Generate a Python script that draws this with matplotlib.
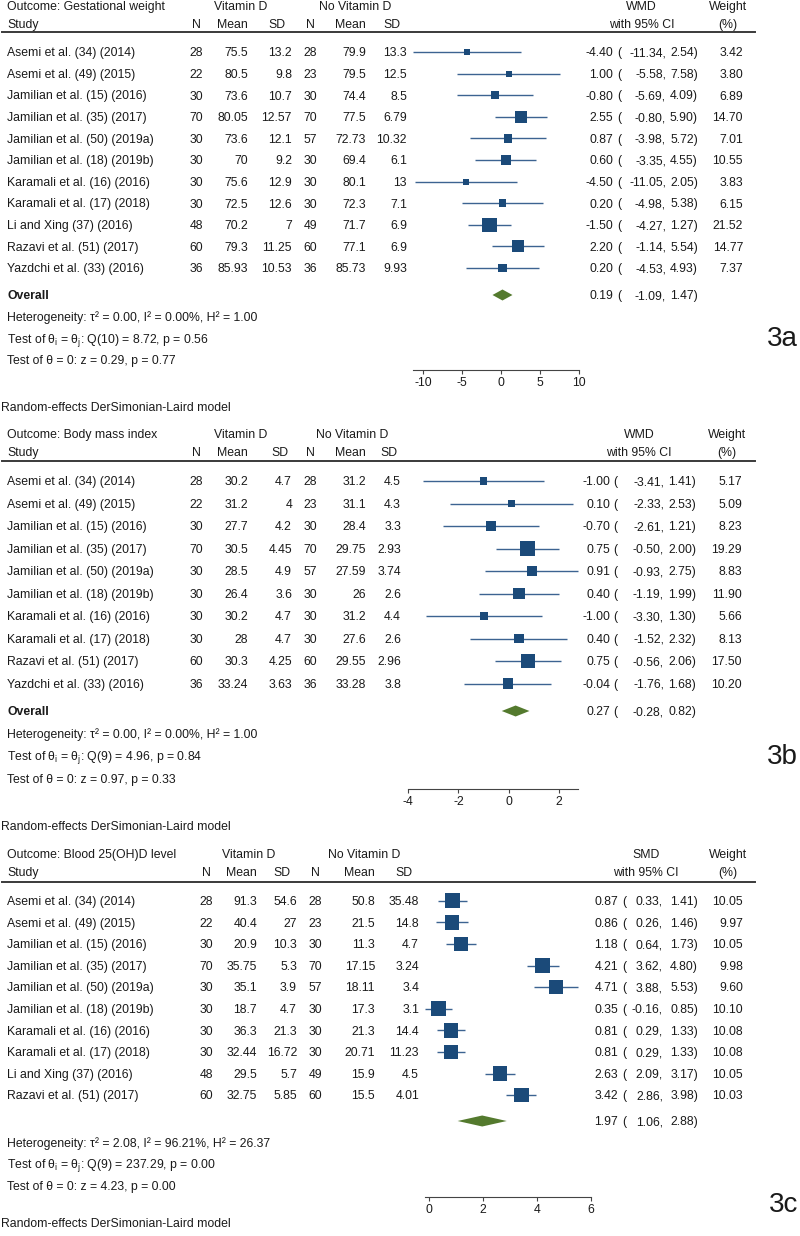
import matplotlib
matplotlib.use('Agg')
import matplotlib.pyplot as plt
from matplotlib.lines import Line2D
from matplotlib.font_manager import FontProperties
import numpy as np

plt.rcParams['font.family'] = ['Liberation Sans', 'DejaVu Sans']
plt.rcParams['axes.unicode_minus'] = False
plt.rcParams['mathtext.fontset'] = 'custom'
plt.rcParams['mathtext.rm'] = 'Liberation Sans'
plt.rcParams['mathtext.it'] = 'Liberation Sans:italic'

# ---------------- DATA ----------------
studies_a = ["Asemi et al. (34) (2014)", "Asemi et al. (49) (2015)", "Jamilian et al. (15) (2016)",
             "Jamilian et al. (35) (2017)", "Jamilian et al. (50) (2019a)", "Jamilian et al. (18) (2019b)",
             "Karamali et al. (16) (2016)", "Karamali et al. (17) (2018)", "Li and Xing (37) (2016)",
             "Razavi et al. (51) (2017)", "Yazdchi et al. (33) (2016)"]
n1_a = [28, 22, 30, 70, 30, 30, 30, 30, 48, 60, 36]
mean1_a = [75.5, 80.5, 73.6, 80.05, 73.6, 70, 75.6, 72.5, 70.2, 79.3, 85.93]
sd1_a = [13.2, 9.8, 10.7, 12.57, 12.1, 9.2, 12.9, 12.6, 7, 11.25, 10.53]
n2_a = [28, 23, 30, 70, 57, 30, 30, 30, 49, 60, 36]
mean2_a = [79.9, 79.5, 74.4, 77.5, 72.73, 69.4, 80.1, 72.3, 71.7, 77.1, 85.73]
sd2_a = [13.3, 12.5, 8.5, 6.79, 10.32, 6.1, 13, 7.1, 6.9, 6.9, 9.93]
es_a = [-4.40, 1.00, -0.80, 2.55, 0.87, 0.60, -4.50, 0.20, -1.50, 2.20, 0.20]
lo_a = [-11.34, -5.58, -5.69, -0.80, -3.98, -3.35, -11.05, -4.98, -4.27, -1.14, -4.53]
hi_a = [2.54, 7.58, 4.09, 5.90, 5.72, 4.55, 2.05, 5.38, 1.27, 5.54, 4.93]
wt_a = [3.42, 3.80, 6.89, 14.70, 7.01, 10.55, 3.83, 6.15, 21.52, 14.77, 7.37]
overall_a = [0.19, -1.09, 1.47]
ticks_a = [-10, -5, 0, 5, 10]

studies_b = ["Asemi et al. (34) (2014)", "Asemi et al. (49) (2015)", "Jamilian et al. (15) (2016)",
             "Jamilian et al. (35) (2017)", "Jamilian et al. (50) (2019a)", "Jamilian et al. (18) (2019b)",
             "Karamali et al. (16) (2016)", "Karamali et al. (17) (2018)", "Razavi et al. (51) (2017)",
             "Yazdchi et al. (33) (2016)"]
n1_b = [28, 22, 30, 70, 30, 30, 30, 30, 60, 36]
mean1_b = [30.2, 31.2, 27.7, 30.5, 28.5, 26.4, 30.2, 28, 30.3, 33.24]
sd1_b = [4.7, 4, 4.2, 4.45, 4.9, 3.6, 4.7, 4.7, 4.25, 3.63]
n2_b = [28, 23, 30, 70, 57, 30, 30, 30, 60, 36]
mean2_b = [31.2, 31.1, 28.4, 29.75, 27.59, 26, 31.2, 27.6, 29.55, 33.28]
sd2_b = [4.5, 4.3, 3.3, 2.93, 3.74, 2.6, 4.4, 2.6, 2.96, 3.8]
es_b = [-1.00, 0.10, -0.70, 0.75, 0.91, 0.40, -1.00, 0.40, 0.75, -0.04]
lo_b = [-3.41, -2.33, -2.61, -0.50, -0.93, -1.19, -3.30, -1.52, -0.56, -1.76]
hi_b = [1.41, 2.53, 1.21, 2.00, 2.75, 1.99, 1.30, 2.32, 2.06, 1.68]
wt_b = [5.17, 5.09, 8.23, 19.29, 8.83, 11.90, 5.66, 8.13, 17.50, 10.20]
overall_b = [0.27, -0.28, 0.82]
ticks_b = [-4, -2, 0, 2]

studies_c = ["Asemi et al. (34) (2014)", "Asemi et al. (49) (2015)", "Jamilian et al. (15) (2016)",
             "Jamilian et al. (35) (2017)", "Jamilian et al. (50) (2019a)", "Jamilian et al. (18) (2019b)",
             "Karamali et al. (16) (2016)", "Karamali et al. (17) (2018)", "Li and Xing (37) (2016)",
             "Razavi et al. (51) (2017)"]
n1_c = [28, 22, 30, 70, 30, 30, 30, 30, 48, 60]
mean1_c = [91.3, 40.4, 20.9, 35.75, 35.1, 18.7, 36.3, 32.44, 29.5, 32.75]
sd1_c = [54.6, 27, 10.3, 5.3, 3.9, 4.7, 21.3, 16.72, 5.7, 5.85]
n2_c = [28, 23, 30, 70, 57, 30, 30, 30, 49, 60]
mean2_c = [50.8, 21.5, 11.3, 17.15, 18.11, 17.3, 21.3, 20.71, 15.9, 15.5]
sd2_c = [35.48, 14.8, 4.7, 3.24, 3.4, 3.1, 14.4, 11.23, 4.5, 4.01]
es_c = [0.87, 0.86, 1.18, 4.21, 4.71, 0.35, 0.81, 0.81, 2.63, 3.42]
lo_c = [0.33, 0.26, 0.64, 3.62, 3.88, -0.16, 0.29, 0.29, 2.09, 2.86]
hi_c = [1.41, 1.46, 1.73, 4.80, 5.53, 0.85, 1.33, 1.33, 3.17, 3.98]
wt_c = [10.05, 9.97, 10.05, 9.98, 9.60, 10.10, 10.08, 10.08, 10.05, 10.03]
overall_c = [1.97, 1.06, 2.88]
ticks_c = [0, 2, 4, 6]

het_a = ["Heterogeneity: τ² = 0.00, I² = 0.00%, H² = 1.00",
         r"Test of θ$_\mathrm{i}$ = θ$_\mathrm{j}$: Q(10) = 8.72, p = 0.56",
         "Test of θ = 0: z = 0.29, p = 0.77"]
het_b = ["Heterogeneity: τ² = 0.00, I² = 0.00%, H² = 1.00",
         r"Test of θ$_\mathrm{i}$ = θ$_\mathrm{j}$: Q(9) = 4.96, p = 0.84",
         "Test of θ = 0: z = 0.97, p = 0.33"]
het_c = ["Heterogeneity: τ² = 2.08, I² = 96.21%, H² = 26.37",
         r"Test of θ$_\mathrm{i}$ = θ$_\mathrm{j}$: Q(9) = 237.29, p = 0.00",
         "Test of θ = 0: z = 4.23, p = 0.00"]

# ---------------- STYLE / LAYOUT ----------------
W, H, DPI = 800, 1236, 100
FS = 8.8
TXT = '#1a1a1a'
SQ = '#1b4a79'
CI = '#3c6391'
DIA = '#547a2e'

fig = plt.figure(figsize=(W / DPI, H / DPI), dpi=DPI)
renderer = fig.canvas.get_renderer()
fp = FontProperties(family=['Liberation Sans', 'DejaVu Sans'], size=FS)


def tw(s):
    w, h, d = renderer.get_text_width_height_descent(s, fp, ismath=False)
    return w


def T(x, y, s, ha='left', **kw):
    kw.setdefault('fontsize', FS)
    kw.setdefault('color', TXT)
    fig.text(x / W, 1 - (y + 4.3) / H, s, ha=ha, va='baseline', **kw)


fmt = lambda v: f"{v:g}"
f2 = lambda v: f"{v:.2f}"

panels = [
    dict(outcome="Outcome: Gestational weight", eff="WMD", tag="3a", studies=studies_a,
         cols=[n1_a, mean1_a, sd1_a, n2_a, mean2_a, sd2_a], es=es_a, lo=lo_a, hi=hi_a, wt=wt_a,
         overall=overall_a, het=het_a, ticks=ticks_a, overall_label=True,
         y_out=6, y_sub=23.3, y_line=32.3, y0=52, dy=21.6, y_ov=295, y_het=[317, 338.5, 360],
         y_axis=370, y_re=407, y_tag=339,
         colr=[203, 248, 292, 317, 366, 407], est_r=613, par_l=617, lo_r=666, hi_r=698, w_r=743,
         zero=501, scale=7.8),
    dict(outcome="Outcome: Body mass index", eff="WMD", tag="3b", studies=studies_b,
         cols=[n1_b, mean1_b, sd1_b, n2_b, mean2_b, sd2_b], es=es_b, lo=lo_b, hi=hi_b, wt=wt_b,
         overall=overall_b, het=het_b, ticks=ticks_b, overall_label=True,
         y_out=434, y_sub=452, y_line=461, y0=481, dy=22.5, y_ov=711, y_het=[733.5, 756, 778.5],
         y_axis=789, y_re=826, y_tag=757,
         colr=[203, 248, 292, 317, 366, 401], est_r=610, par_l=613, lo_r=664, hi_r=696, w_r=742,
         zero=508.8, scale=25.2),
    dict(outcome="Outcome: Blood 25(OH)D level", eff="SMD", tag="3c", studies=studies_c,
         cols=[n1_c, mean1_c, sd1_c, n2_c, mean2_c, sd2_c], es=es_c, lo=lo_c, hi=hi_c, wt=wt_c,
         overall=overall_c, het=het_c, ticks=ticks_c, overall_label=False,
         y_out=854, y_sub=872, y_line=882, y0=900.7, dy=21.6, y_ov=1121, y_het=[1143, 1164, 1186],
         y_axis=1197, y_re=1223, y_tag=1205,
         colr=[213, 257, 297, 322, 375, 419], est_r=618, par_l=622, lo_r=663, hi_r=698, w_r=743,
         zero=429, scale=27.0),
]

col_heads = ["N", "Mean", "SD", "N", "Mean", "SD"]

for P in panels:
    n = len(P['studies'])
    ys = [P['y0'] + i * P['dy'] for i in range(n)]
    # ---- header ----
    T(7, P['y_out'], P['outcome'])
    T(7, P['y_sub'], "Study")
    col_strs = [[fmt(v) for v in c] for c in P['cols']]
    for k in range(6):
        cx = P['colr'][k] - max(tw(s) for s in col_strs[k]) / 2
        T(cx, P['y_sub'], col_heads[k], ha='center')
    g1 = (P['colr'][0] - max(tw(s) for s in col_strs[0]) + P['colr'][2]) / 2
    g2 = (P['colr'][3] - max(tw(s) for s in col_strs[3]) + P['colr'][5]) / 2
    T(g1, P['y_out'], "Vitamin D", ha='center')
    T(g2, P['y_out'], "No Vitamin D", ha='center')
    est_strs = [f2(v) for v in P['es']] + [f2(P['overall'][0])]
    eff_c = (P['est_r'] - max(tw(s) for s in est_strs) + P['hi_r']) / 2
    T(eff_c, P['y_out'], P['eff'], ha='center')
    T(eff_c, P['y_sub'], "with 95% CI", ha='center')
    wt_strs = [f2(v) for v in P['wt']]
    w_c = P['w_r'] - max(tw(s) for s in wt_strs) / 2
    T(w_c, P['y_out'], "Weight", ha='center')
    T(w_c, P['y_sub'], "(%)", ha='center')
    fig.add_artist(Line2D([2 / W, 755 / W], [1 - P['y_line'] / H] * 2, color='#3a3a3a', lw=1.4))

    # ---- rows ----
    for i in range(n):
        y = ys[i]
        T(7, y, P['studies'][i])
        for k in range(6):
            T(P['colr'][k], y, col_strs[k][i], ha='right')
        T(P['est_r'], y, f2(P['es'][i]), ha='right')
        T(P['par_l'], y, "(")
        T(P['lo_r'], y, f2(P['lo'][i]) + ",", ha='right')
        T(P['hi_r'], y, f2(P['hi'][i]) + ")", ha='right')
        T(P['w_r'], y, wt_strs[i], ha='right')

    # overall row
    if P['overall_label']:
        T(7, P['y_ov'], "Overall", fontweight='bold')
    T(P['est_r'], P['y_ov'], f2(P['overall'][0]), ha='right')
    T(P['par_l'], P['y_ov'], "(")
    T(P['lo_r'], P['y_ov'], f2(P['overall'][1]) + ",", ha='right')
    T(P['hi_r'], P['y_ov'], f2(P['overall'][2]) + ")", ha='right')

    for s, y in zip(P['het'], P['y_het']):
        T(7, y, s)
    T(1, P['y_re'], "Random-effects DerSimonian-Laird model")
    fig.text(798 / W, 1 - P['y_tag'] / H, P['tag'], ha='right', va='center', fontsize=20, color=TXT)

    # ---- forest axes ----
    xl, xr = 395, 610
    yt, yb = P['y_line'], P['y_axis']
    ax = fig.add_axes([xl / W, 1 - yb / H, (xr - xl) / W, (yb - yt) / H])
    ax.patch.set_visible(False)
    ax.set_xlim((xl - P['zero']) / P['scale'], (xr - P['zero']) / P['scale'])
    ax.set_ylim((yb - P['y0']) / P['dy'], (yt - P['y0']) / P['dy'])
    rows = np.arange(n)
    ax.hlines(rows, P['lo'], P['hi'], color=CI, lw=1.0, zorder=2)
    wmax = max(P['wt'])
    side = 14.5 * np.sqrt(np.array(P['wt']) / wmax)
    ax.scatter(P['es'], rows, marker='s', s=(side * 0.72) ** 2, color=SQ, linewidths=0, zorder=3)
    r_ov = (P['y_ov'] - P['y0']) / P['dy']
    hh = 5.5 / P['dy']
    e, l, h = P['overall']
    ax.fill([l, e, h, e], [r_ov, r_ov - hh, r_ov, r_ov + hh], color=DIA, lw=0, zorder=3)
    for sp in ['top', 'left', 'right']:
        ax.spines[sp].set_visible(False)
    ax.spines['bottom'].set_color('#444444')
    ax.spines['bottom'].set_linewidth(0.8)
    ax.spines['bottom'].set_bounds(min(min(P['lo']), P['ticks'][0]), max(max(P['hi']), P['ticks'][-1]))
    ax.set_yticks([])
    ax.set_xticks(P['ticks'])
    ax.set_xticklabels([str(t) for t in P['ticks']])
    ax.tick_params(axis='x', direction='out', length=3, width=0.8, color='#444444',
                   labelsize=FS, labelcolor=TXT, pad=2.0)

fig.savefig('out.png', dpi=DPI)
